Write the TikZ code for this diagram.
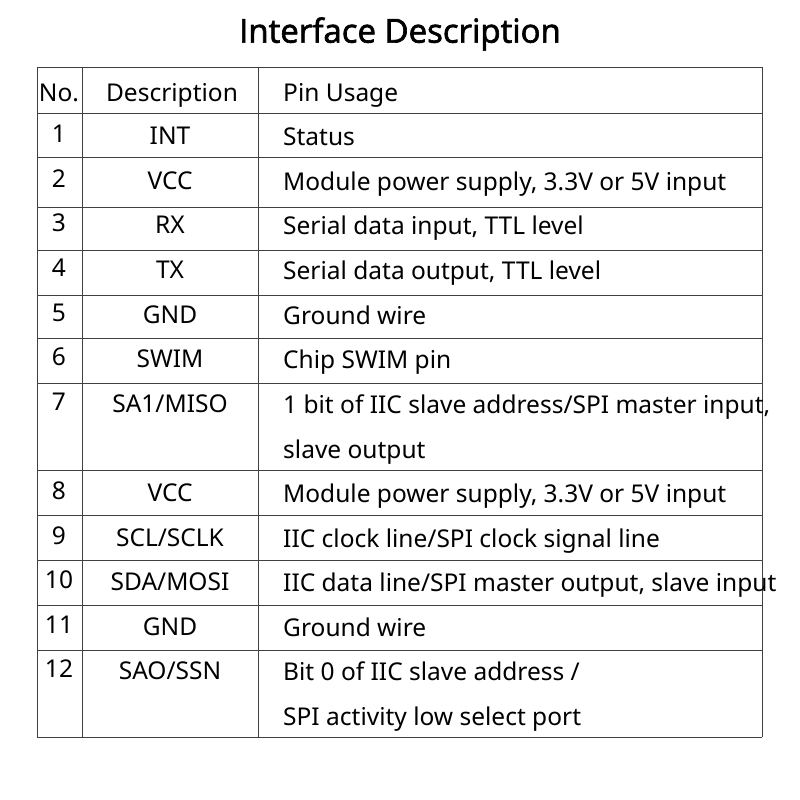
\documentclass[tikz,border=0pt]{standalone}
\usepackage{fontspec}
\setmainfont{Noto Sans}
\newfontfamily\titlefont{Open Sans}[FakeBold=2]
\begin{document}
\begin{tikzpicture}[x=1pt,y=-1pt,
  t/.style={inner sep=0pt,font=\fontsize{24.5}{28}\selectfont},
  grid/.style={line width=0.8pt,black!75}]
\useasboundingbox (0,0) rectangle (800,800);
\node[inner sep=0pt,font=\titlefont\fontsize{33}{40}\selectfont] (title) at (400,34) {Interface Description};
\begin{scope}
\clip (0,0) rectangle (775,800);
\foreach \y in {67,113,157,207,250,295,338,383,470,515,560,605,650,737}
  \draw[grid] (37,\y) -- (762,\y);
\foreach \x in {37,82,258,762} \draw[grid] (\x,67) -- (\x,737);
\node[t,anchor=base] (h1) at (59,101) {No.};
\node[t,anchor=base] (h2) at (172,101) {Description};
\node[t,anchor=base west] (h3) at (283,101) {Pin Usage};
\foreach \n/\d/\p/\b in {1/INT/Status/145,2/VCC/{Module power supply, 3.3V or 5V input}/190,
  3/RX/{Serial data input, TTL level}/234,4/TX/{Serial data output, TTL level}/279,
  5/GND/Ground wire/324,6/SWIM/Chip SWIM pin/368,7/SA1\slash MISO/{1 bit of IIC slave address/SPI master input,}/413,
  8/VCC/{Module power supply, 3.3V or 5V input}/502,9/SCL\slash SCLK/{IIC clock line/SPI clock signal line}/547,
  10/SDA\slash MOSI/{IIC data line/SPI master output, slave input}/591,11/GND/Ground wire/636,
  12/SAO\slash SSN/{Bit 0 of IIC slave address /}/680}{
  \node[t,anchor=base] (n\n) at (59,\b-3) {\n};
  \node[t,anchor=base] (d\n) at (170,\b-1) {\d};
  \node[t,anchor=base west] (p\n) at (283,\b) {\p};
}
\node[t,anchor=base west] (p7b) at (283,458) {slave output};
\node[t,anchor=base west] (p12b) at (283,725) {SPI activity low select port};
\end{scope}
\end{tikzpicture}
\end{document}
